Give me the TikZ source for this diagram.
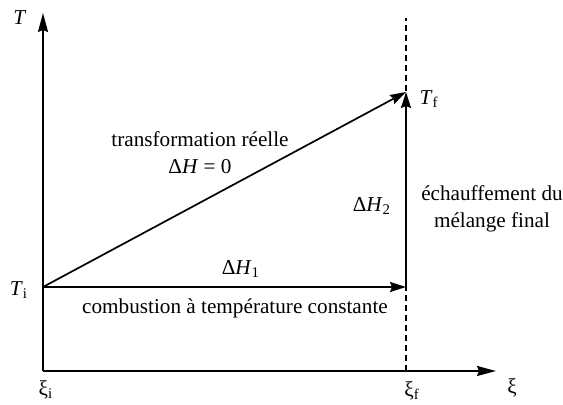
\documentclass[tikz,border=0pt]{standalone}
\usepackage{fontspec}
\setmainfont{Liberation Serif}
\usepackage{tikz}
\usetikzlibrary{arrows.meta}
\tikzset{
  axis/.style   = {-{Stealth[length=9.5pt, width=5pt, inset=1pt]}, line width=0.85pt, draw=black},
  path/.style   = {-{Stealth[length=8pt, width=5pt, inset=1pt]}, line width=0.85pt, draw=black},
  guide/.style  = {line width=1pt, dash pattern=on 3pt off 2pt, draw=black},
  lab/.style    = {inner sep=1pt, align=center},
}

\begin{document}
\begin{tikzpicture}[x=0.5pt, y=-0.5pt, font=\fontsize{10.6}{13.5}\selectfont]
    \useasboundingbox (0,0) rectangle (563,405);

    % points of the diagram
    \coordinate (orig) at (43,371);
    \coordinate (ytop) at (43,13);
    \coordinate (xend) at (496,371);
    \coordinate (ini)  at (43,287);
    \coordinate (mid)  at (406,287);
    \coordinate (fin)  at (406,92);
    \coordinate (dtop) at (406,18);
    \coordinate (dbot) at (406,371);

    % final extent (dashed)
    \draw[guide] (dbot) -- (dtop);

    % axes
    \draw[axis] (orig) -- (ytop);
    \draw[axis] (orig) -- (xend);

    % paths
    \draw[path] (ini) -- (fin);
    \draw[path] (ini) -- (mid);
    \draw[path] (mid) -- (fin);

    % axis labels
    \node[lab] (tlab)  at (20,18)  {\textit{T}};
    \node[lab] (tilab) at (19,290) {\textit{T}\textsubscript{i}};
    \node[lab] (tflab) at (429,99) {\textit{T}\textsubscript{f}};
    \node[lab] (xilab) at (46,390) {ξ\textsubscript{i}};
    \node[lab] (xflab) at (412,391) {ξ\textsubscript{f}};
    \node[lab] (xlab)  at (512,388) {ξ};

    % path labels
    \node[lab] (reel)  at (200,153) {transformation réelle\\Δ\textit{H} = 0};
    \node[lab] (dh1)   at (241,269) {Δ\textit{H}\textsubscript{1}};
    \node[lab] (comb)  at (235,308) {combustion à température constante};
    \node[lab] (dh2)   at (372,206) {Δ\textit{H}\textsubscript{2}};
    \node[lab] (chauf) at (492,209) {échauffement du\\mélange final};
  \end{tikzpicture}
\end{document}
